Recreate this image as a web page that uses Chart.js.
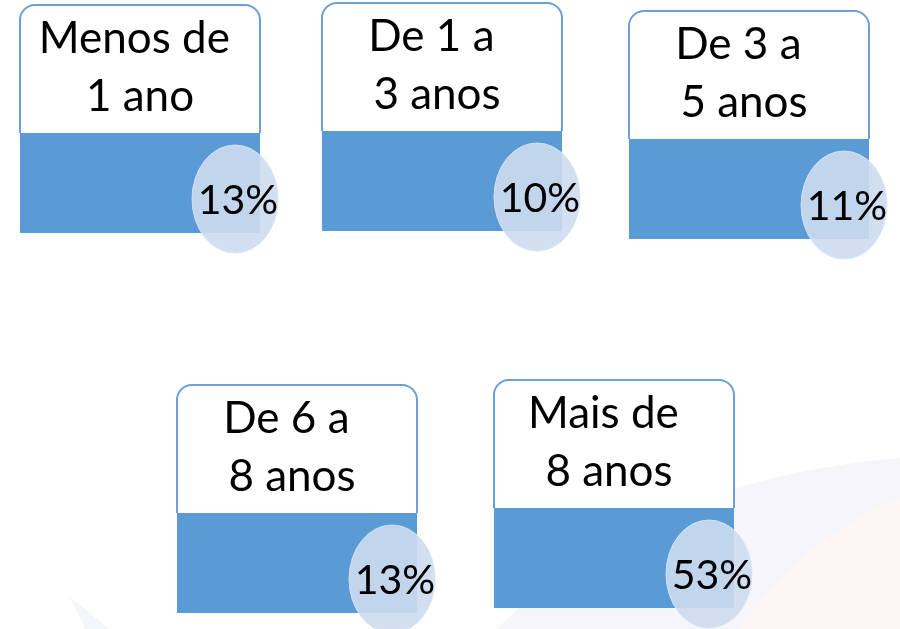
<!DOCTYPE html>
<html>
<head>
<meta charset="utf-8">
<script src="https://cdn.jsdelivr.net/npm/chart.js@4.4.1/dist/chart.umd.min.js"></script>
<style>
  html, body { margin: 0; padding: 0; background: #fff; }
  #wrap { width: 900px; height: 629px; }
</style>
</head>
<body>
<div id="wrap"><canvas id="cards" width="900" height="629"></canvas></div>
<script>
// data
const categories = [
    ['Menos de ', '1 ano'],
    ['De 1 a ', '3 anos'],
    ['De 3 a ', '5 anos'],
    ['De 6 a ', '8 anos'],
    ['Mais de ', '8 anos']
];
const shares = [13, 10, 11, 13, 53];

// layout (top-left of each card, in page pixels)
const cardPos = [[20, 5], [322, 3], [629, 11], [177, 385], [494, 380]];
const cardW = 240, whiteH = 128, blueH = 100;
const bubbleOff = [215, 194];

const fontFamily = 'Lato, "Open Sans", sans-serif';
const blue = '#5B9BD5';

// ellipse used as point style
function makeEllipse(w, h) {
    const c = document.createElement('canvas');
    c.width = w + 4; c.height = h + 4;
    const g = c.getContext('2d');
    g.beginPath();
    g.ellipse(c.width / 2, c.height / 2, w / 2, h / 2, 0, 0, Math.PI * 2);
    g.fillStyle = 'rgba(204, 219, 238, 0.9)';
    g.fill();
    g.lineWidth = 1;
    g.strokeStyle = 'rgba(215, 227, 243, 0.9)';
    g.stroke();
    return c;
}
const ellipseImg = makeEllipse(86, 108);

const backdrop = {
    id: 'backdrop',
    beforeDraw(chart) {
        const ctx = chart.ctx;
        ctx.save();
        ctx.fillStyle = '#fff';
        ctx.fillRect(0, 0, chart.width, chart.height);
        // faint swooshes
        ctx.fillStyle = '#F6F5F9';
        ctx.beginPath();
        ctx.moveTo(497, 629);
        ctx.quadraticCurveTo(640, 480, 900, 458);
        ctx.lineTo(900, 629);
        ctx.closePath();
        ctx.fill();
        ctx.fillStyle = '#FEF6F3';
        ctx.beginPath();
        ctx.moveTo(740, 629);
        ctx.quadraticCurveTo(800, 540, 900, 498);
        ctx.lineTo(900, 629);
        ctx.closePath();
        ctx.fill();
        ctx.fillStyle = '#F3F6FB';
        ctx.beginPath();
        ctx.moveTo(68, 596);
        ctx.quadraticCurveTo(90, 612, 108, 629);
        ctx.lineTo(85, 629);
        ctx.quadraticCurveTo(78, 610, 68, 596);
        ctx.fill();
        ctx.restore();
    }
};

const cardsPlugin = {
    id: 'cardsPlugin',
    beforeDatasetsDraw(chart) {
        const ctx = chart.ctx;
        const xs = chart.scales.x, ys = chart.scales.y;
        ctx.save();
        cardPos.forEach((p, i) => {
            const x = xs.getPixelForValue(p[0]);
            const y = ys.getPixelForValue(p[1]);
            const r = 15;
            // blue bottom
            ctx.fillStyle = blue;
            ctx.fillRect(x, y + whiteH, cardW, blueH);
            // white top with rounded corners
            ctx.beginPath();
            ctx.moveTo(x, y + whiteH);
            ctx.lineTo(x, y + r);
            ctx.arcTo(x, y, x + r, y, r);
            ctx.lineTo(x + cardW - r, y);
            ctx.arcTo(x + cardW, y, x + cardW, y + r, r);
            ctx.lineTo(x + cardW, y + whiteH);
            ctx.fillStyle = '#fff';
            ctx.fill();
            ctx.lineWidth = 2;
            ctx.strokeStyle = '#6A9FD8';
            ctx.stroke();
            // label
            ctx.fillStyle = '#000';
            ctx.font = '44px ' + fontFamily;
            ctx.textAlign = 'center';
            ctx.textBaseline = 'alphabetic';
            const cx = x + cardW / 2 - (i === 0 ? 0 : 5);
            ctx.fillText(categories[i][0], cx, y + 48);
            ctx.fillText(categories[i][1], cx, y + 105.5);
        });
        ctx.restore();
    },
    afterDatasetsDraw(chart) {
        const ctx = chart.ctx;
        const meta = chart.getDatasetMeta(0);
        ctx.save();
        ctx.fillStyle = '#000';
        ctx.font = '41px ' + fontFamily;
        ctx.textAlign = 'center';
        ctx.textBaseline = 'alphabetic';
        meta.data.forEach((pt, i) => {
            ctx.fillText(shares[i] + '%', pt.x + 3, pt.y + 15);
        });
        ctx.restore();
    }
};

new Chart(document.getElementById('cards'), {
    type: 'scatter',
    data: {
        datasets: [{
            label: 'Tempo',
            data: shares.map((v, i) => ({ x: cardPos[i][0] + bubbleOff[0], y: cardPos[i][1] + bubbleOff[1], v: v })),
            pointStyle: ellipseImg,
            pointRadius: 40,
            pointHoverRadius: 40,
            clip: false
        }]
    },
    options: {
        responsive: false,
        animation: false,
        events: [],
        layout: { padding: 0, autoPadding: false },
        scales: {
            x: { type: 'linear', min: 0, max: 900, display: false },
            y: { type: 'linear', min: 0, max: 629, reverse: true, display: false }
        },
        plugins: {
            legend: { display: false },
            tooltip: { enabled: false }
        }
    },
    plugins: [backdrop, cardsPlugin]
});
</script>
</body>
</html>
